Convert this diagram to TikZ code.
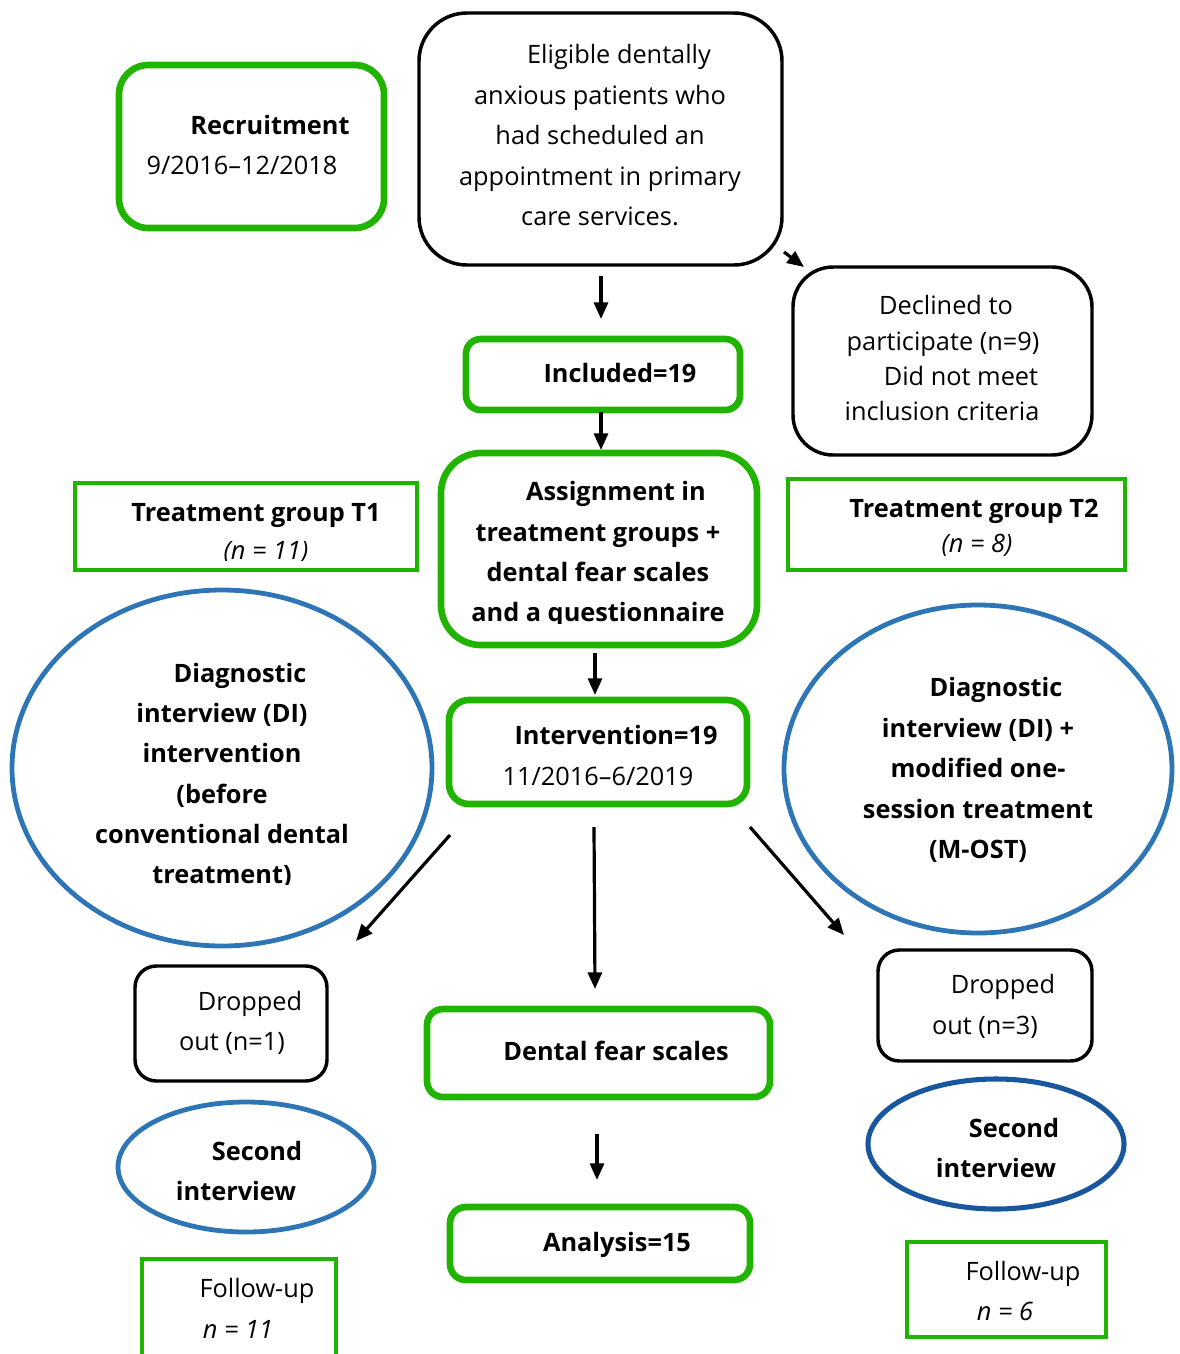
\documentclass[tikz,border=0pt]{standalone}
\usepackage{fontspec}
\setmainfont{Open Sans}
\usetikzlibrary{arrows.meta,shapes.geometric}
\definecolor{fgreen}{RGB}{32,180,0}
\definecolor{eblue}{RGB}{46,117,182}
\definecolor{dblue}{RGB}{24,86,158}

% box node from its corner coordinates (in px)
\newcommand\boxnode[6]{\node[#2,inner sep=0pt,minimum width={(#5-#3)*0.75pt},minimum height={(#6-#4)*0.75pt}] (#1) at ({(#3+#5)/2},{(#4+#6)/2}) {};}
% ellipse node from centre and radii (in px)
\newcommand\ellnode[6]{\node[#2,ellipse,inner sep=0pt,minimum width={2*#5*0.75pt},minimum height={2*#6*0.75pt}] (#1) at (#3,#4) {};}

\begin{document}
\begin{tikzpicture}[x=0.75pt,y=-0.75pt,
  gbox/.style={draw=fgreen,line width=5pt},
  gthin/.style={draw=fgreen,line width=2.4pt},
  kbox/.style={draw=black,line width=2.6pt},
  bell/.style={draw=eblue,line width=3.6pt},
  dell/.style={draw=dblue,line width=3.8pt},
  t/.style={font=\fontsize{19}{23}\selectfont,anchor=base,inner sep=0pt},
  tb/.style={font=\fontsize{19}{23}\selectfont\bfseries,anchor=base,inner sep=0pt},
  ti/.style={font=\fontsize{19}{23}\selectfont\itshape,anchor=base,inner sep=0pt},
  arr/.style={-{Triangle[length=12.5pt,width=10.5pt]},line width=2.4pt}]
\useasboundingbox (0,0) rectangle (1180,1354);

% ---------- boxes ----------
\boxnode{rec}{gbox,rounded corners=22pt}{119}{65}{384}{228}
\boxnode{elig}{kbox,rounded corners=36pt}{419}{13}{782}{265}
\boxnode{incl}{gbox,rounded corners=11pt}{466}{339}{740}{410}
\boxnode{decl}{kbox,rounded corners=30pt}{793}{267}{1092}{455}
\boxnode{assign}{gbox,rounded corners=30pt}{441}{453}{757}{645}
\boxnode{tone}{gthin}{75}{483}{417}{570}
\boxnode{ttwo}{gthin}{788}{479}{1125}{570}
\boxnode{interv}{gbox,rounded corners=15pt}{449}{700}{747}{804}
\boxnode{dropl}{kbox,rounded corners=16pt}{135}{966}{327}{1081}
\boxnode{fear}{gbox,rounded corners=12pt}{427}{1009}{770}{1097}
\boxnode{dropr}{kbox,rounded corners=16pt}{878}{950}{1092}{1061}
\boxnode{anal}{gbox,rounded corners=12pt}{450}{1207}{750}{1280}
\boxnode{fupl}{gthin}{142}{1259}{336}{1360}
\boxnode{fupr}{gthin}{907}{1242}{1106}{1337}

% ---------- ellipses ----------
\ellnode{dil}{bell}{222}{768}{210}{178}
\ellnode{dir}{bell}{978}{769}{194}{164}
\ellnode{secl}{bell}{246}{1167}{128}{65}
\ellnode{secr}{dell}{996}{1144}{128}{65}

% ---------- texts ----------
\node[tb] (recA) at (270,134) {Recruitment};
\node[t]  (recB) at (242,174) {9/2016–12/2018};

\node[t] (e1) at (619,63)  {Eligible dentally};
\node[t] (e2) at (600,104) {anxious patients who};
\node[t] (e3) at (600,144) {had scheduled an};
\node[t] (e4) at (600,185) {appointment in primary};
\node[t] (e5) at (600,225) {care services.};

\node[tb] (inclT) at (620,382) {Included=19};

\node[t] (d1) at (946,314) {Declined to};
\node[t] (d2) at (943,350) {participate (n=9)};
\node[t] (d3) at (961,385) {Did not meet};
\node[t] (d4) at (942,420) {inclusion criteria};

\node[tb] (a1) at (616,500) {Assignment in};
\node[tb] (a2) at (598,541) {treatment groups +};
\node[tb] (a3) at (598,581) {dental fear scales};
\begin{scope}
  \clip (430,590) rectangle (770,623);
  \node[tb] (a4) at (598,621) {and a questionnaire};
\end{scope}

\node[tb] (t1a) at (256,521) {Treatment group T1};
\begin{scope}
  \clip (80,530) rectangle (410,560);
  \node[ti] (t1b) at (266,559) {(n = 11)};
\end{scope}
\node[tb] (t2a) at (974,517) {Treatment group T2};
\node[ti] (t2b) at (977,552) {(n = 8)};

\node[tb] (i1) at (616,744) {Intervention=19};
\node[t]  (i2) at (598,785) {11/2016–6/2019};

\node[tb] (l1) at (240,682) {Diagnostic};
\node[tb] (l2) at (222,722) {interview (DI)};
\node[tb] (l3) at (222,762) {intervention};
\node[tb] (l4) at (222,803) {(before};
\node[tb] (l5) at (222,843) {conventional dental};
\begin{scope}
  \clip (90,850) rectangle (360,884);
  \node[tb] (l6) at (222,883) {treatment)};
\end{scope}

\node[tb] (r1) at (996,696) {Diagnostic};
\node[tb] (r2) at (978,737) {interview (DI) +};
\node[tb] (r3) at (978,777) {modified one-};
\node[tb] (r4) at (978,818) {session treatment};
\node[tb] (r5) at (978,858) {(M-OST)};

\node[t] (dl1) at (250,1010) {Dropped};
\node[t] (dl2) at (232,1050) {out (n=1)};
\node[tb] (fearT) at (616,1060) {Dental fear scales};
\node[t] (dr1) at (1003,993) {Dropped};
\node[t] (dr2) at (985,1034) {out (n=3)};

\node[tb] (sl1) at (257,1160) {Second};
\node[tb] (sl2) at (236,1200) {interview};
\node[tb] (sr1) at (1014,1137) {Second};
\node[tb] (sr2) at (996,1177) {interview};

\node[tb] (anT) at (617,1251) {Analysis=15};

\node[t]  (fl1) at (257,1297) {Follow-up};
\node[ti] (fl2) at (238,1338) {n = 11};
\node[t]  (fr1) at (1023,1280) {Follow-up};
\node[ti] (fr2) at (1005,1320) {n = 6};

% ---------- connectors ----------
\coordinate (c1s) at (601,276);  \coordinate (c1e) at (601,319);
\coordinate (c2s) at (784,252);  \coordinate (c2e) at (804,267);
\coordinate (c3s) at (601,412);  \coordinate (c3e) at (601,450);
\coordinate (c4s) at (595,653);  \coordinate (c4e) at (595,695);
\coordinate (c5s) at (450,835);  \coordinate (c5e) at (356,941);
\coordinate (c6s) at (594,827);  \coordinate (c6e) at (595,989);
\coordinate (c7s) at (750,827);  \coordinate (c7e) at (844,935);
\coordinate (c8s) at (597,1134); \coordinate (c8e) at (597,1180);

\draw[arr] (c1s) -- (c1e);
\draw[arr] (c2s) -- (c2e);
\draw[arr] (c3s) -- (c3e);
\draw[arr] (c4s) -- (c4e);
\draw[arr] (c5s) -- (c5e);
\draw[arr] (c6s) -- (c6e);
\draw[arr] (c7s) -- (c7e);
\draw[arr] (c8s) -- (c8e);
\end{tikzpicture}
\end{document}
